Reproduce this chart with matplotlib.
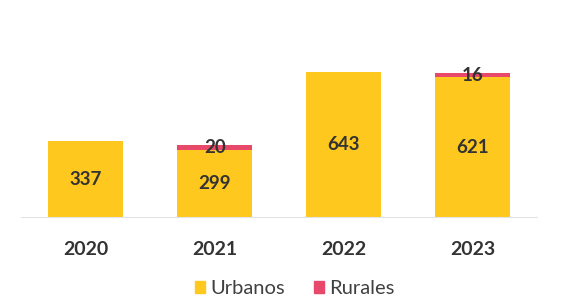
import matplotlib
matplotlib.use("Agg")
import matplotlib.pyplot as plt
from matplotlib.patches import Patch

years = ["2020", "2021", "2022", "2023"]
urbanos = [337, 299, 643, 621]
rurales = [0, 20, 0, 16]

plt.rcParams['font.family'] = ['Lato', 'DejaVu Sans']

fig = plt.figure(figsize=(5.72, 3.04), dpi=100)
ax = fig.add_axes([0.0370, 0.286, 0.902, 0.645])

c_urb = "#FFC81E"
c_rur = "#E8496A"
x = list(range(len(years)))
w = 0.58
ax.bar(x, urbanos, width=w, color=c_urb, label="Urbanos")
ax.bar(x, rurales, width=w, bottom=urbanos, color=c_rur, label="Rurales")

for i, (u, r) in enumerate(zip(urbanos, rurales)):
    ax.text(i, u / 2, str(u), ha="center", va="center", fontsize=13.5,
            fontweight="bold", color="#333333")
    if r > 0:
        ax.text(i, u + r / 2, str(r), ha="center", va="center", fontsize=13.5,
                fontweight="bold", color="#333333")

ax.set_xlim(-0.5, 3.5)
ax.set_ylim(0, 870)
ax.set_xticks(x)
ax.set_xticklabels(years, fontsize=14, fontweight="bold", color="#333333")
ax.tick_params(axis="x", length=0, pad=17)
ax.set_yticks([])
for s in ["top", "right", "left"]:
    ax.spines[s].set_visible(False)
ax.spines["bottom"].set_color("#e3e3e3")

handles = [Patch(color=c_urb, label="Urbanos"), Patch(color=c_rur, label="Rurales")]
fig.legend(handles=handles, loc="center", bbox_to_anchor=(0.515, 0.05), ncol=2,
           frameon=False, fontsize=14.5, handlelength=0.5, handleheight=0.5,
           handletextpad=0.25, columnspacing=1.45, labelcolor="#404040",
           borderpad=0, borderaxespad=0)

fig.savefig("out.png", dpi=100, facecolor="white")
